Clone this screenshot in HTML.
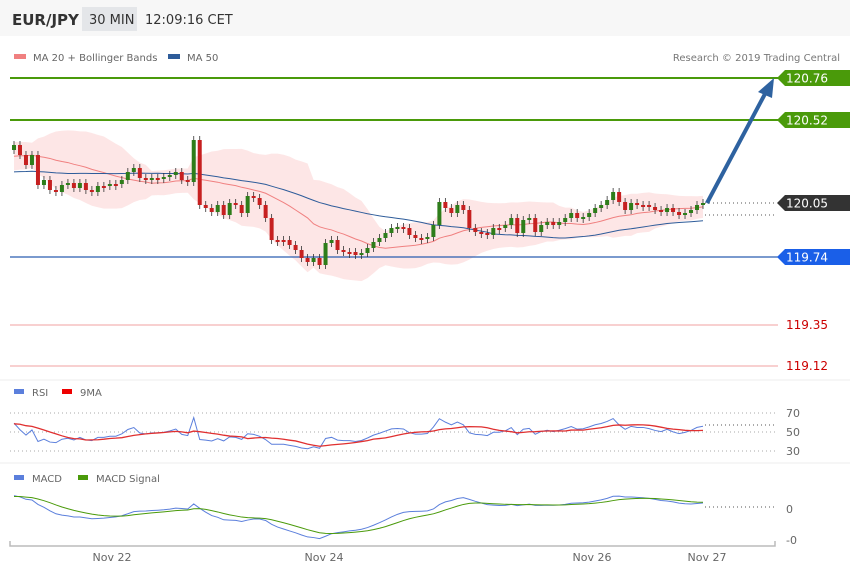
<!DOCTYPE html><html><head><meta charset="utf-8"><style>
body{margin:0;background:#fff;font-family:"Liberation Sans","DejaVu Sans",sans-serif}
svg{display:block}
</style></head><body>
<svg id="s" width="850" height="576" xmlns="http://www.w3.org/2000/svg" font-family="DejaVu Sans, Liberation Sans, sans-serif">
<rect x="0" y="0" width="850" height="36" fill="#f7f7f7"/>
<text x="12" y="25" font-size="15" font-weight="bold" fill="#333">EUR/JPY</text>
<rect x="82" y="7" width="55" height="24" fill="#e4e6e9"/>
<text x="89" y="24" font-size="13" fill="#333">30 MIN</text>
<text x="145" y="24" font-size="13" fill="#333">12:09:16 CET</text>
<rect x="14" y="54" width="12" height="5" fill="#f08080"/>
<text x="33" y="61" font-size="10" fill="#666">MA 20 + Bollinger Bands</text>
<rect x="168" y="54" width="12" height="5" fill="#2e5c9a"/>
<text x="187" y="61" font-size="10" fill="#666">MA 50</text>
<text x="840" y="61" font-size="10" fill="#777" text-anchor="end">Research © 2019 Trading Central</text>
<line x1="0" y1="380" x2="850" y2="380" stroke="#eee"/>
<line x1="0" y1="463" x2="850" y2="463" stroke="#eee"/>
<rect x="14" y="389" width="10" height="5" fill="#5b7fdc"/><text x="32" y="396" font-size="10" fill="#666">RSI</text>
<rect x="62" y="389" width="10" height="5" fill="#e00"/><text x="80" y="396" font-size="10" fill="#666">9MA</text>
<rect x="14" y="475" width="10" height="5" fill="#5b7fdc"/><text x="32" y="482" font-size="10" fill="#666">MACD</text>
<rect x="78" y="475" width="10" height="5" fill="#4a9a0a"/><text x="96" y="482" font-size="10" fill="#666">MACD Signal</text>
<g font-size="11" fill="#666">
<text x="786" y="417">70</text><text x="786" y="436">50</text><text x="786" y="455">30</text>
<text x="786" y="513">0</text><text x="786" y="544">-0</text>
<text x="112" y="561" text-anchor="middle">Nov 22</text><text x="324" y="561" text-anchor="middle">Nov 24</text>
<text x="592" y="561" text-anchor="middle">Nov 26</text><text x="707" y="561" text-anchor="middle">Nov 27</text>
</g>
<path d="M10 541 V546 H775 V541" fill="none" stroke="#bbb" stroke-width="1.5"/>
<g stroke-dasharray="1,3" stroke="#aaa"><line x1="10" y1="413" x2="775" y2="413"/><line x1="10" y1="432" x2="775" y2="432"/><line x1="10" y1="451" x2="775" y2="451"/></g>
<g id="g"></g>
</svg>
<script>
var c=[145,155,165,155,185,180,190,192,185,183,188,183,190,192,186,186,184,184,180,172,168,178,180,178,178,177,175,172,180,182,140,205,208,212,205,215,203,205,213,196,198,205,218,240,240,240,245,250,258,262,258,265,243,240,250,252,252,255,253,248,242,238,233,228,227,228,235,238,238,237,225,202,208,213,205,210,228,232,233,235,228,228,225,218,233,220,218,232,225,222,225,222,218,213,218,217,213,208,205,200,192,202,210,203,205,205,207,210,212,208,212,215,213,210,205,203];
var W=40,pre=[];for(var k=0;k<W;k++){pre.push(190-k*1.1+((k%3)-1)*4)}
var A=pre.concat(c);
var n=c.length,x0=14,dx=(703-14)/(n-1),X=i=>x0+i*dx,h='';
function ma(a,p,i){var s=0,k=0;for(var j=Math.max(0,i-p+1);j<=i;j++){s+=a[j];k++}return s/k}
function sd(a,p,i){var m=ma(a,p,i),s=0,k=0;for(var j=Math.max(0,i-p+1);j<=i;j++){s+=(a[j]-m)*(a[j]-m);k++}return Math.sqrt(s/k)}
var up='',lo='',m20='',m50='';
for(var i=0;i<n;i++){var I=i+W,m=ma(A,20,I),s=Math.max(sd(A,20,I),5.5);up+=(i?'L':'M')+X(i)+' '+(m-2*s);lo='L'+X(i)+' '+(m+2*s)+lo;m20+=(i?'L':'M')+X(i)+' '+m;m50+=(i?'L':'M')+X(i)+' '+(ma(A,50,I)+4);}
h+='<path d="'+up+lo+'Z" fill="#fde0e0" opacity="0.8"/>';
h+='<path d="'+m20+'" fill="none" stroke="#f08080" stroke-width="1"/><path d="'+m50+'" fill="none" stroke="#2e5c9a" stroke-width="1"/>';
h+='<line x1="10" y1="78" x2="778" y2="78" stroke="#4a9a0a" stroke-width="2"/><line x1="10" y1="120" x2="778" y2="120" stroke="#4a9a0a" stroke-width="2"/>';
h+='<line x1="10" y1="257" x2="778" y2="257" stroke="#2a5db0" stroke-width="1.2"/>';
h+='<line x1="10" y1="325" x2="778" y2="325" stroke="#f0a0a0"/><line x1="10" y1="366" x2="778" y2="366" stroke="#f0a0a0"/>';
h+='<line x1="705" y1="203" x2="775" y2="203" stroke="#555" stroke-dasharray="1,3"/><line x1="705" y1="215" x2="775" y2="215" stroke="#555" stroke-dasharray="1,3"/>';
function tag(y,t,col,tc){h+='<path d="M777 '+y+'L785 '+(y-8)+'H850V'+(y+8)+'H785Z" fill="'+col+'"/><text x="786" y="'+(y+4.5)+'" font-size="12" fill="'+tc+'">'+t+'</text>'}
tag(78,'120.76','#4a9a0a','#fff');tag(120,'120.52','#4a9a0a','#fff');tag(203,'120.05','#333','#fff');tag(257,'119.74','#1a5fe8','#fff');
h+='<text x="786" y="329" font-size="12" fill="#c00">119.35</text><text x="786" y="370" font-size="12" fill="#c00">119.12</text>';
for(var i=0;i<n;i++){var o=i?c[i-1]:c[i]+5,cl=c[i],x=X(i),t=Math.min(o,cl),b=Math.max(o,cl);var col=cl<o?'#2e7d1a':'#c62020';if(Math.abs(o-cl)<2){b=t+2}
h+='<line x1="'+x+'" y1="'+(t-4)+'" x2="'+x+'" y2="'+(b+4)+'" stroke="#333" stroke-width="0.8"/><rect x="'+(x-2)+'" y="'+t+'" width="4" height="'+(b-t)+'" fill="'+col+'"/>';}
h+='<line x1="707" y1="203" x2="766" y2="92" stroke="#2e62a0" stroke-width="4"/><path d="M774 78L758 92L772 98Z" fill="#2e62a0"/>';
var p=A.map(v=>-v),r=[],ag=0.5,al=0.5;
for(var i=0;i<p.length;i++){var d=i?p[i]-p[i-1]:0;ag=(ag*13+Math.max(d,0))/14;al=(al*13+Math.max(-d,0))/14;r.push(al+ag?100*ag/(ag+al):50)}
r=r.map(v=>50+(v-50)*0.8);
var rs='',r9='';for(var i=0;i<n;i++){var I=i+W;rs+=(i?'L':'M')+X(i)+' '+(451-(r[I]-30)*0.95);r9+=(i?'L':'M')+X(i)+' '+(451-(ma(r,9,I)-30)*0.95)}
h+='<path d="'+rs+'" fill="none" stroke="#5b7fdc" stroke-width="1"/><path d="'+r9+'" fill="none" stroke="#e03030" stroke-width="1.3"/>';
h+='<line x1="705" y1="425" x2="775" y2="425" stroke="#555" stroke-dasharray="1,3"/>';
function ema(a,k){var o=[],e=a[0],al=2/(k+1);for(var i=0;i<a.length;i++){e=a[i]*al+e*(1-al);o.push(e)}return o}
var e12=ema(p,12),e26=ema(p,26),md=p.map((v,i)=>e12[i]-e26[i]),sg=ema(md,9);
var ms='',ss='',sc=1.6;for(var i=0;i<n;i++){var I=i+W;ms+=(i?'L':'M')+X(i)+' '+Math.min(545,507-md[I]*sc);ss+=(i?'L':'M')+X(i)+' '+Math.min(545,507-sg[I]*sc)}
h+='<path d="'+ms+'" fill="none" stroke="#5b7fdc" stroke-width="1"/><path d="'+ss+'" fill="none" stroke="#4a9a0a" stroke-width="1"/>';
h+='<line x1="705" y1="507" x2="775" y2="507" stroke="#555" stroke-dasharray="1,3"/>';
document.getElementById('g').innerHTML=h;
</script>
</body></html>
